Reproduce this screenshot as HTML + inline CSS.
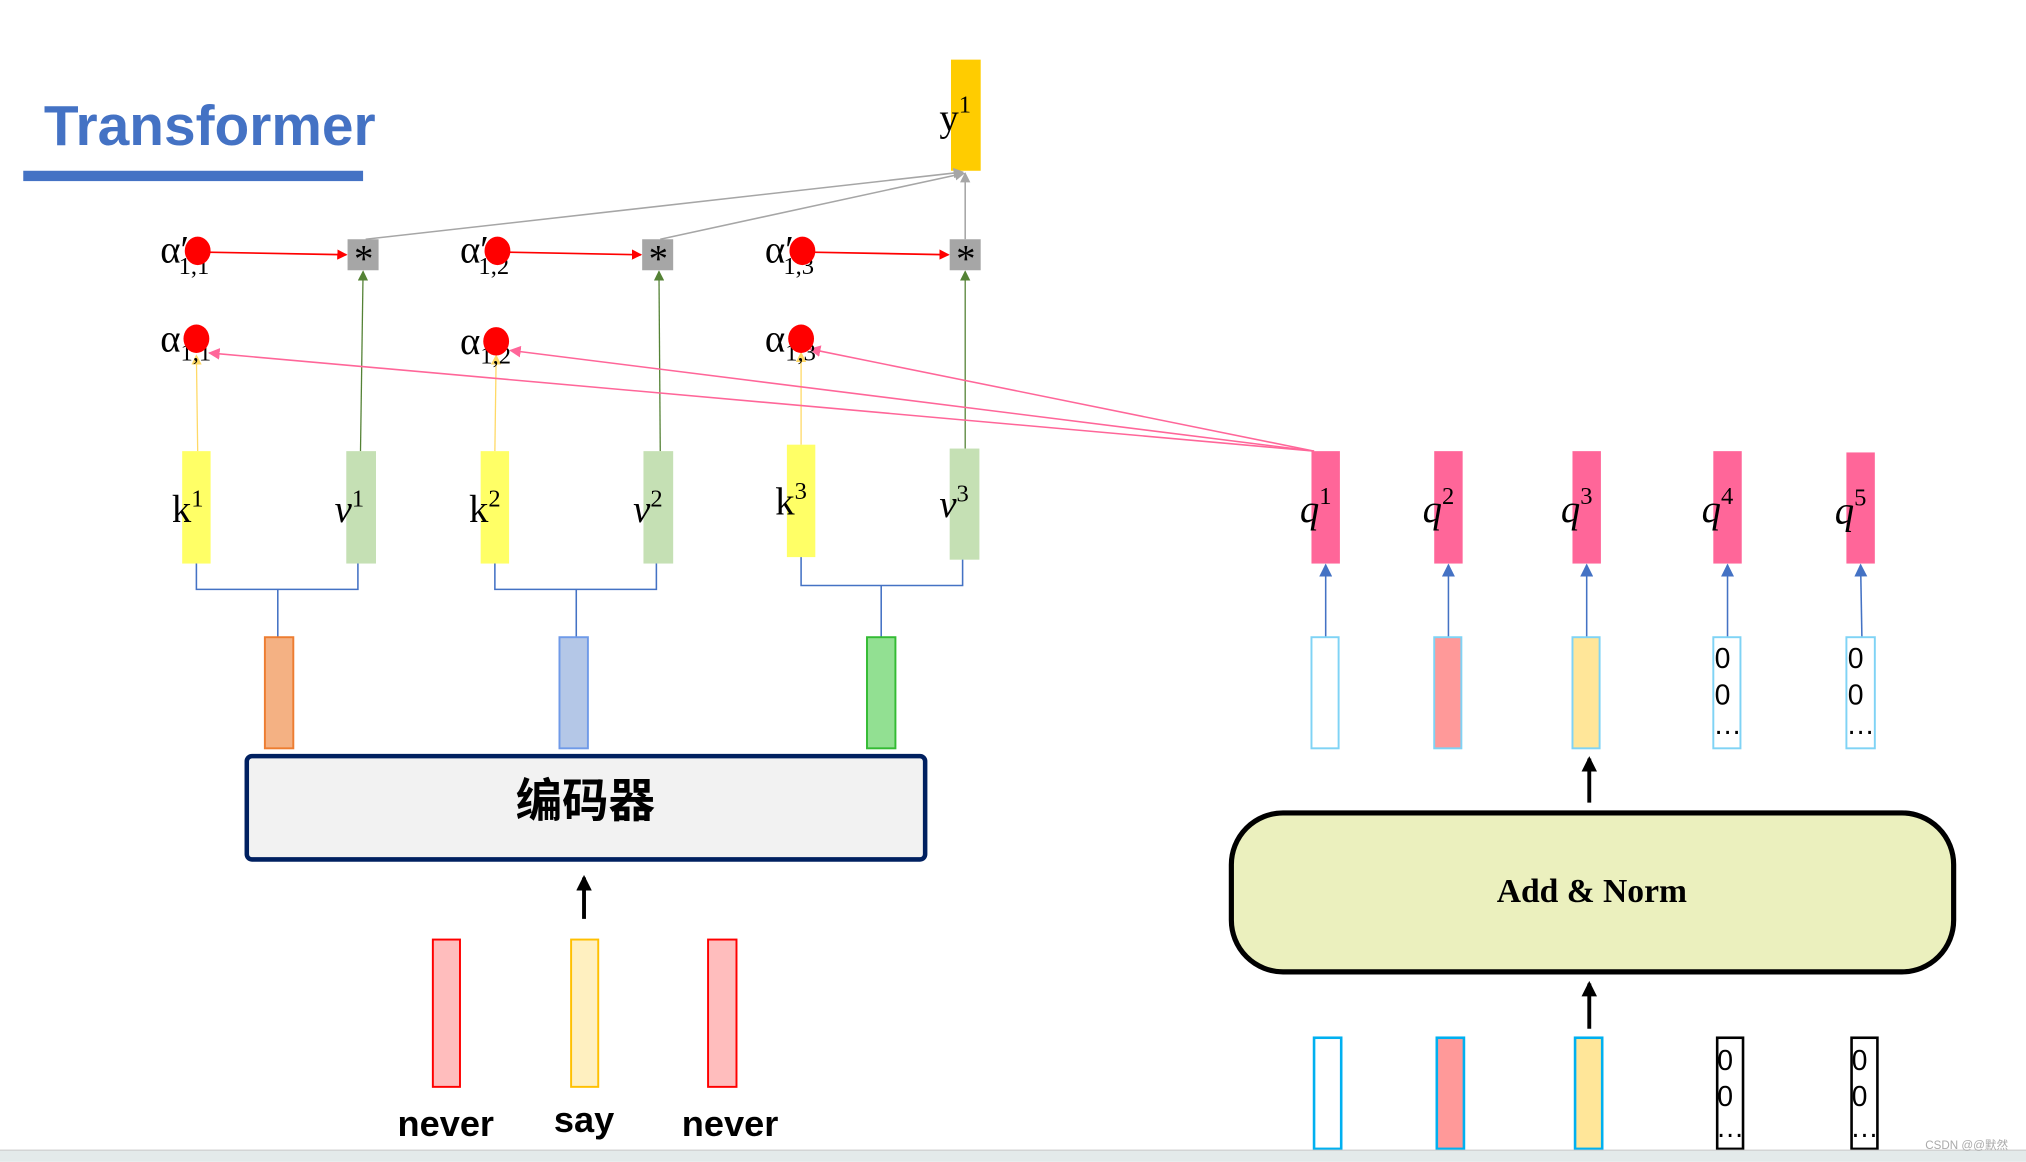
<!DOCTYPE html>
<html><head><meta charset="utf-8"><style>
html,body{margin:0;padding:0;background:#fff;overflow:hidden}
svg{display:block}
.m{font-family:"Liberation Serif",serif;font-size:30px;fill:#000}
.s{font-size:19px}
.q{font-family:"Liberation Serif",serif;font-style:italic;font-size:30px}
.z{font-family:"Liberation Sans",sans-serif;font-size:22px}
</style></head><body>
<svg width="2026" height="1162" viewBox="0 0 1568 899" xmlns="http://www.w3.org/2000/svg">
<defs>
<marker id="ar" markerWidth="8" markerHeight="8" refX="7" refY="4" orient="auto" markerUnits="userSpaceOnUse"><path d="M0,0L8,4L0,8z" fill="#f00"/></marker>
<marker id="ag" markerWidth="8" markerHeight="8" refX="7" refY="4" orient="auto" markerUnits="userSpaceOnUse"><path d="M0,0L8,4L0,8z" fill="#548235"/></marker>
<marker id="agr" markerWidth="8" markerHeight="8" refX="7" refY="4" orient="auto" markerUnits="userSpaceOnUse"><path d="M0,0L8,4L0,8z" fill="#a6a6a6"/></marker>
<marker id="ay" markerWidth="8" markerHeight="8" refX="7" refY="4" orient="auto" markerUnits="userSpaceOnUse"><path d="M0,0L8,4L0,8z" fill="#ffd966"/></marker>
<marker id="ap" markerWidth="9" markerHeight="9" refX="8" refY="4.5" orient="auto" markerUnits="userSpaceOnUse"><path d="M0,0L9,4.5L0,9z" fill="#ff6699"/></marker>
<marker id="ab" markerWidth="10" markerHeight="10" refX="9" refY="5" orient="auto" markerUnits="userSpaceOnUse"><path d="M0,0L10,5L0,10z" fill="#4472c4"/></marker>
<marker id="ak" markerWidth="12" markerHeight="12" refX="10" refY="6" orient="auto" markerUnits="userSpaceOnUse"><path d="M0,0L12,6L0,12z" fill="#000"/></marker>
</defs>
<text x="34" y="112" font-family="Liberation Sans,sans-serif" font-size="44" font-weight="bold" fill="#4472c4">Transformer</text>
<rect x="18" y="132" width="263" height="8" fill="#4472c4"/>
<rect x="736" y="46" width="23" height="86" fill="#ffcc00"/>
<text x="727" y="101" class="m">y<tspan class="s" dy="-14">1</tspan></text>
<g stroke="#a6a6a6" stroke-width="1.2" fill="none">
<line x1="283" y1="185" x2="745" y2="133" marker-end="url(#agr)"/>
<line x1="511" y1="185" x2="746" y2="134" marker-end="url(#agr)"/>
<line x1="747" y1="185" x2="747" y2="134" marker-end="url(#agr)"/>
</g>
<g fill="#a6a6a6"><rect x="269" y="185" width="24" height="24"/><rect x="497" y="185" width="24" height="24"/><rect x="735" y="185" width="24" height="24"/></g>
<g class="m" font-size="26"><text x="274" y="210">*</text><text x="502" y="210">*</text><text x="740" y="210">*</text></g>
<g stroke="#f00" stroke-width="1.3"><line x1="160" y1="195" x2="268" y2="197" marker-end="url(#ar)"/><line x1="392" y1="195" x2="496" y2="197" marker-end="url(#ar)"/><line x1="628" y1="195" x2="734" y2="197" marker-end="url(#ar)"/></g>
<g stroke="#548235" stroke-width="1"><line x1="279" y1="349" x2="281" y2="210" marker-end="url(#ag)"/><line x1="511" y1="349" x2="510" y2="210" marker-end="url(#ag)"/><line x1="747" y1="347" x2="747" y2="210" marker-end="url(#ag)"/></g>
<g stroke="#ffd966" stroke-width="1"><line x1="153" y1="349" x2="152" y2="275" marker-end="url(#ay)"/><line x1="383" y1="349" x2="384" y2="275" marker-end="url(#ay)"/><line x1="620" y1="344" x2="620" y2="273" marker-end="url(#ay)"/></g>
<g stroke="#ff6699" stroke-width="1.2"><line x1="1017" y1="349" x2="162" y2="273" marker-end="url(#ap)"/><line x1="1017" y1="349" x2="395" y2="271" marker-end="url(#ap)"/><line x1="1017" y1="349" x2="627" y2="270" marker-end="url(#ap)"/></g>
<g class="m"><text x="124" y="203">α′<tspan class="s" dx="-8" dy="9">1,1</tspan></text><text x="356" y="203">α′<tspan class="s" dx="-8" dy="9">1,2</tspan></text><text x="592" y="203">α′<tspan class="s" dx="-8" dy="9">1,3</tspan></text>
<text x="124" y="272">α<tspan class="s" dy="7">1,1</tspan></text><text x="356" y="274">α<tspan class="s" dy="7">1,2</tspan></text><text x="592" y="272">α<tspan class="s" dy="7">1,3</tspan></text></g>
<g fill="#f00"><ellipse cx="153" cy="194" rx="10" ry="11"/><ellipse cx="385" cy="194" rx="10" ry="11"/><ellipse cx="621" cy="194" rx="10" ry="11"/><ellipse cx="152" cy="262" rx="10" ry="11"/><ellipse cx="384" cy="264" rx="10" ry="11"/><ellipse cx="620" cy="262" rx="10" ry="11"/></g>
<g fill="#ffff66"><rect x="141" y="349" width="22" height="87"/><rect x="372" y="349" width="22" height="87"/><rect x="609" y="344" width="22" height="87"/></g>
<g fill="#c5e0b4"><rect x="268" y="349" width="23" height="87"/><rect x="498" y="349" width="23" height="87"/><rect x="735" y="347" width="23" height="86"/></g>
<g class="m"><text x="133" y="404">k<tspan class="s" dy="-12">1</tspan></text><text x="363" y="404">k<tspan class="s" dy="-12">2</tspan></text><text x="600" y="398">k<tspan class="s" dy="-12">3</tspan></text></g>
<g class="q"><text x="259" y="404">v<tspan class="s" font-style="normal" dy="-12">1</tspan></text><text x="490" y="404">v<tspan class="s" font-style="normal" dy="-12">2</tspan></text><text x="727" y="400">v<tspan class="s" font-style="normal" dy="-12">3</tspan></text></g>
<g stroke="#4472c4" stroke-width="1.2" fill="none"><path d="M152 436V456H277V436M215 456V493"/><path d="M383 436V456H508V436M446 456V493"/><path d="M620 431V453H745V433M682 453V493"/></g>
<rect x="205" y="493" width="22" height="86" fill="#f4b183" stroke="#ed7d31" stroke-width="1.5"/>
<rect x="433" y="493" width="22" height="86" fill="#b4c7e7" stroke="#6f9ae8" stroke-width="1.5"/>
<rect x="671" y="493" width="22" height="86" fill="#92e092" stroke="#33bb33" stroke-width="1.5"/>
<rect x="191" y="585" width="525" height="80" rx="4" fill="#f2f2f2" stroke="#002060" stroke-width="3.5"/>
<text x="453" y="632" text-anchor="middle" font-family="Liberation Sans,'Noto Sans CJK SC',sans-serif" font-size="36" font-weight="bold">编码器</text>
<line x1="452" y1="711" x2="452" y2="679" stroke="#000" stroke-width="3" marker-end="url(#ak)"/>
<rect x="335" y="727" width="21" height="114" fill="#ffbdbd" stroke="#f00" stroke-width="1.5"/>
<rect x="442" y="727" width="21" height="114" fill="#fff0c0" stroke="#ffc000" stroke-width="1.5"/>
<rect x="548" y="727" width="22" height="114" fill="#ffbdbd" stroke="#f00" stroke-width="1.5"/>
<g font-family="Liberation Sans,sans-serif" font-size="28" text-anchor="middle" font-weight="bold" fill="#000"><text x="345" y="879">never</text><text x="452" y="876">say</text><text x="565" y="879">never</text></g>
<g fill="#ff6699"><rect x="1015" y="349" width="22" height="87"/><rect x="1110" y="349" width="22" height="87"/><rect x="1217" y="349" width="22" height="87"/><rect x="1326" y="349" width="22" height="87"/><rect x="1429" y="350" width="22" height="86"/></g>
<g class="q"><text x="1006" y="404">q<tspan class="s" font-style="normal" dy="-14">1</tspan></text><text x="1101" y="404">q<tspan class="s" font-style="normal" dy="-14">2</tspan></text><text x="1208" y="404">q<tspan class="s" font-style="normal" dy="-14">3</tspan></text><text x="1317" y="404">q<tspan class="s" font-style="normal" dy="-14">4</tspan></text><text x="1420" y="405">q<tspan class="s" font-style="normal" dy="-14">5</tspan></text></g>
<g stroke="#4472c4" stroke-width="1.2"><line x1="1026" y1="493" x2="1026" y2="437" marker-end="url(#ab)"/><line x1="1121" y1="493" x2="1121" y2="437" marker-end="url(#ab)"/><line x1="1228" y1="493" x2="1228" y2="437" marker-end="url(#ab)"/><line x1="1337" y1="493" x2="1337" y2="437" marker-end="url(#ab)"/><line x1="1441" y1="493" x2="1440" y2="437" marker-end="url(#ab)"/></g>
<g stroke="#7fd3f5" stroke-width="1.5"><rect x="1015" y="493" width="21" height="86" fill="#fff"/><rect x="1110" y="493" width="21" height="86" fill="#ff9999"/><rect x="1217" y="493" width="21" height="86" fill="#ffe699"/><rect x="1326" y="493" width="21" height="86" fill="#fff"/><rect x="1429" y="493" width="22" height="86" fill="#fff"/></g>
<g class="z"><text x="1327" y="517">0</text><text x="1327" y="545">0</text><text x="1326" y="568">…</text><text x="1430" y="517">0</text><text x="1430" y="545">0</text><text x="1429" y="568">…</text></g>
<line x1="1230" y1="621" x2="1230" y2="587" stroke="#000" stroke-width="3" marker-end="url(#ak)"/>
<rect x="953" y="629" width="559" height="123" rx="40" fill="#ebf0be" stroke="#000" stroke-width="4"/>
<text x="1232" y="698" text-anchor="middle" font-family="Liberation Serif,serif" font-size="26" font-weight="bold">Add &amp; Norm</text>
<line x1="1230" y1="796" x2="1230" y2="761" stroke="#000" stroke-width="3" marker-end="url(#ak)"/>
<g stroke-width="2"><rect x="1017" y="803" width="21" height="86" fill="#fff" stroke="#00b0f0"/><rect x="1112" y="803" width="21" height="86" fill="#ff9999" stroke="#00b0f0"/><rect x="1219" y="803" width="21" height="86" fill="#ffe699" stroke="#00b0f0"/><rect x="1329" y="803" width="20" height="86" fill="#fff" stroke="#000"/><rect x="1433" y="803" width="20" height="86" fill="#fff" stroke="#000"/></g>
<g class="z"><text x="1329" y="828">0</text><text x="1329" y="856">0</text><text x="1328" y="880">…</text><text x="1433" y="828">0</text><text x="1433" y="856">0</text><text x="1432" y="880">…</text></g>
<rect x="0" y="890" width="1568" height="9" fill="#e3eaea"/>
<line x1="0" y1="890" x2="1568" y2="890" stroke="#c8c8c8" stroke-width="0.8"/>
<text x="1490" y="889" font-family="Liberation Sans,'Noto Sans CJK SC',sans-serif" font-size="9" fill="#aaa">CSDN @@默然</text>
</svg>
</body></html>
